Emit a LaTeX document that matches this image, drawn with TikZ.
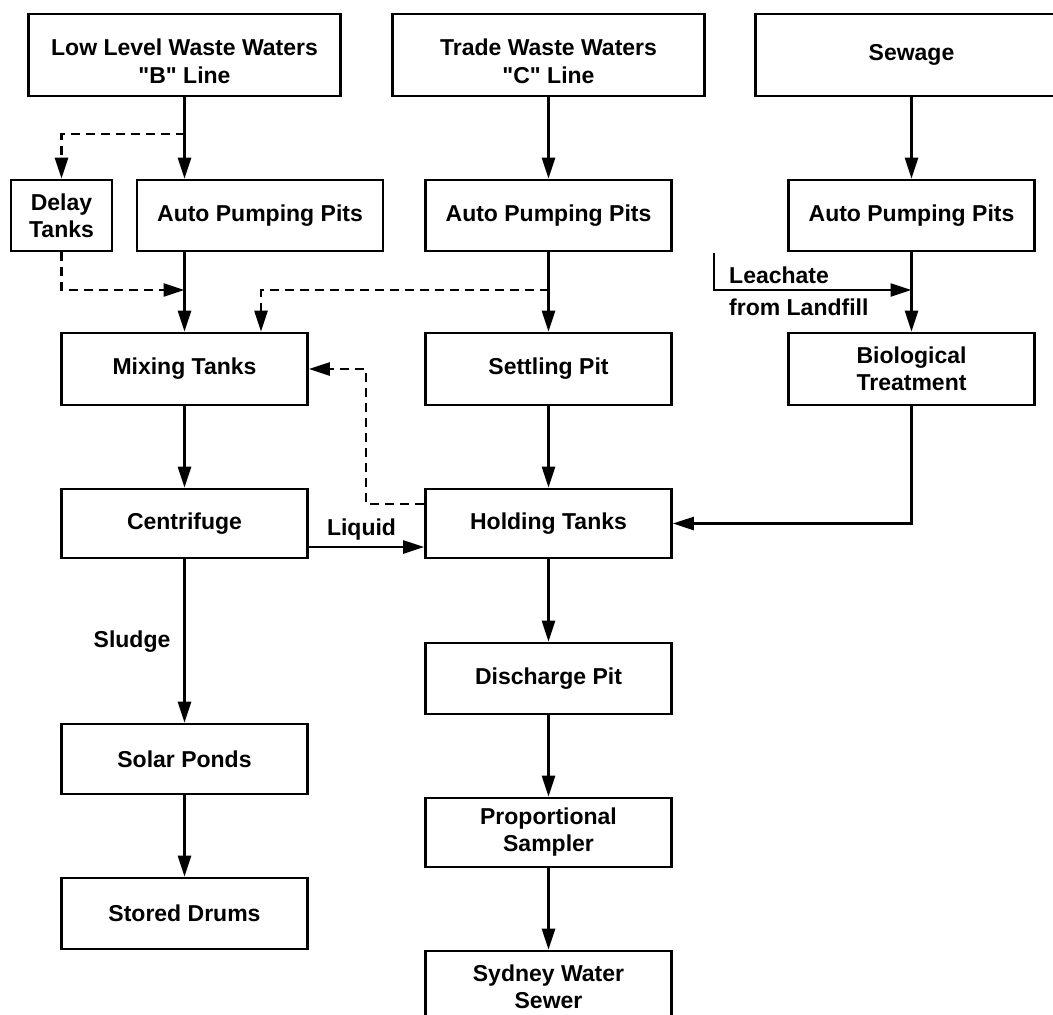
\documentclass[tikz,border=0pt]{standalone}
\usepackage{fontspec}
\newfontfamily\diagfont{Liberation Sans}
\usetikzlibrary{arrows.meta,calc}
\begin{document}
\begin{tikzpicture}[x=1pt,y=-1pt,
  txt/.style={font=\diagfont\bfseries\fontsize{23}{27}\selectfont},
  box/.style={txt, draw, line width=2.8pt, minimum width=246pt, minimum height=71pt,
              inner sep=0pt, align=center},
  topbox/.style={box, minimum width=312pt, minimum height=82pt,
                 font=\diagfont\bfseries\fontsize{23}{28}\selectfont},
  lbl/.style={txt, inner sep=0pt},
  flow/.style={line width=2.6pt, -{Triangle[length=21pt,width=13pt]}},
  dflow/.style={flow, dash pattern=on 9pt off 6pt},
]
\useasboundingbox (0,0) rectangle (1053,1015);
\fill[white] (0,0) rectangle (1053,1015);
\clip (0,0) rectangle (1053,1015);

% top row
\node[topbox] (low)    at (184.5,55) {\rule{0pt}{29pt}Low Level Waste Waters\\"B" Line};
\node[topbox] (trade)  at (548.5,55) {\rule{0pt}{29pt}Trade Waste Waters\\"C" Line};
\node[topbox] (sewage) at (911.5,55) {Sewage};

% second row
\node[box, minimum width=101pt] (delay) at (61.5,215.5) {Delay\\Tanks};
\node[box] (appA) at (260,215.5) {Auto Pumping Pits};
\node[box] (appB) at (548.5,215.5) {Auto Pumping Pits};
\node[box] (appC) at (911.5,215.5) {Auto Pumping Pits};

% third row
\node[box, minimum height=72pt] (mix)    at (184.5,369) {Mixing Tanks};
\node[box, minimum height=72pt] (settle) at (548.5,369) {Settling Pit};
\node[box, minimum height=72pt] (bio)    at (911.5,369) {Biological\\Treatment};

% fourth row
\node[box, minimum height=69pt] (centri) at (184.5,523.5) {Centrifuge};
\node[box, minimum height=69pt] (hold)   at (548.5,523.5) {Holding Tanks};

% lower boxes
\node[box] (disch)   at (548.5,678.5) {Discharge Pit};
\node[box, minimum height=70pt] (solar) at (184.5,759) {Solar Ponds};
\node[box, minimum height=69pt] (sampler) at (548.5,832.5) {Proportional\\Sampler};
\node[box] (drums)   at (184.5,913.5) {Stored Drums};
\node[box] (sydney)  at (548.5,986.5) {Sydney Water\\Sewer};

% labels
\node[lbl, anchor=west] (leachlbl) at (729,275) {Leachate};
\node[lbl, anchor=west] (landlbl)  at (729,307) {from Landfill};
\node[lbl] (liquid) at (361.5,530) {Liquid};
\node[lbl] (sludge) at (132,642) {Sludge};

% helper coordinates
\coordinate (bsplit) at (184.5,134);
\coordinate (bjoin)  at (184.5,290);
\coordinate (cjoin)  at (548.5,290);
\coordinate (leach)  at (714,253);
\coordinate (lmerge) at (911.5,290);
\coordinate (hturn)  at (366,504);

% solid flows
\draw[flow] (low.south) -- (low.south |- appA.north);
\draw[flow] (trade) -- (appB);
\draw[flow] (sewage) -- (appC);
\draw[flow] (mix.north |- appA.south) -- (mix.north);
\draw[flow] (appB) -- (settle);
\draw[flow] (appC) -- (bio);
\draw[flow] (mix) -- (centri);
\draw[flow] (settle) -- (hold);
\draw[flow] (centri) -- (solar);
\draw[flow] (solar) -- (drums);
\draw[flow] (hold) -- (disch);
\draw[flow] (disch) -- (sampler);
\draw[flow] (sampler) -- (sydney);
\draw[flow] ([yshift=-23.5pt]centri.east) -- ([yshift=-23.5pt]hold.west);
\draw[flow] (bio.south) |- (hold.east);
\draw[flow] (leach) |- (lmerge);

% dashed flows
\draw[dflow] (bsplit) -| (delay.north);
\draw[dflow] (delay.south) |- (bjoin);
\draw[dflow] (cjoin) -| ([xshift=76.5pt]mix.north);
\draw[dflow] ([yshift=19.5pt]hold.west) -- (hturn) |- (mix.east);
\end{tikzpicture}
\end{document}
